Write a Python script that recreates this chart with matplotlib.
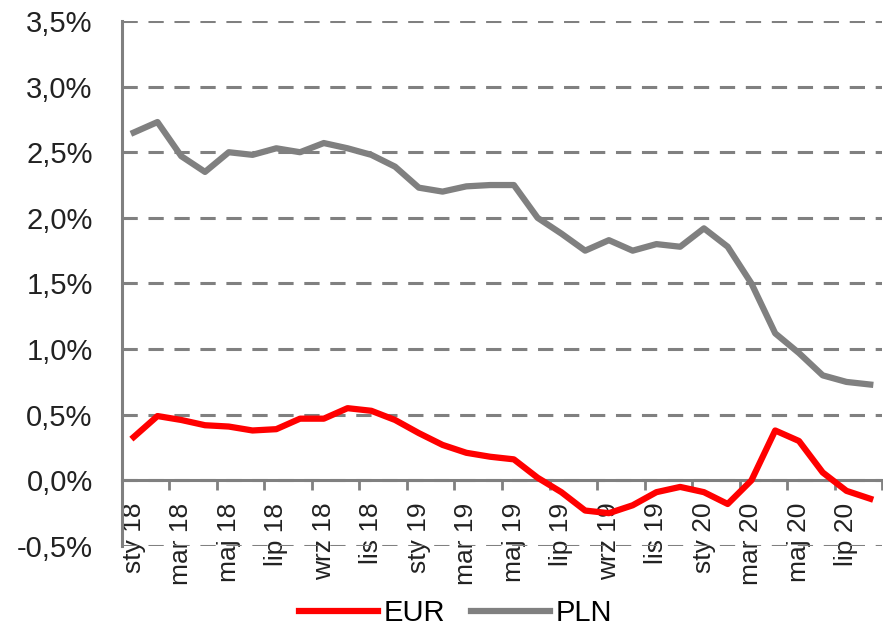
import numpy as np
import matplotlib.pyplot as plt
from matplotlib.ticker import FixedLocator, FuncFormatter

# ── Data (monthly, Jan 2018 – Aug 2020) ─────────────────────────────────────
months = ["sty 18", "lut 18", "mar 18", "kwi 18", "maj 18", "cze 18",
          "lip 18", "sie 18", "wrz 18", "paź 18", "lis 18", "gru 18",
          "sty 19", "lut 19", "mar 19", "kwi 19", "maj 19", "cze 19",
          "lip 19", "sie 19", "wrz 19", "paź 19", "lis 19", "gru 19",
          "sty 20", "lut 20", "mar 20", "kwi 20", "maj 20", "cze 20",
          "lip 20", "sie 20"]

eur = [0.33, 0.49, 0.46, 0.42, 0.41, 0.38, 0.39, 0.47, 0.47, 0.55,
       0.53, 0.46, 0.36, 0.27, 0.21, 0.18, 0.16, 0.02, -0.09, -0.23,
       -0.25, -0.19, -0.09, -0.05, -0.09, -0.18, 0.00, 0.38, 0.30, 0.06,
       -0.08, -0.14]

pln = [2.65, 2.73, 2.47, 2.35, 2.50, 2.48, 2.53, 2.50, 2.57, 2.53,
       2.48, 2.39, 2.23, 2.20, 2.24, 2.25, 2.25, 2.00, 1.88, 1.75,
       1.83, 1.75, 1.80, 1.78, 1.92, 1.78, 1.50, 1.12, 0.97, 0.80,
       0.75, 0.73]

RED = "#ff0000"
GREY = "#808080"
TXT = "#222222"

plt.rcParams["font.family"] = ["Liberation Sans", "DejaVu Sans"]
plt.rcParams["font.size"] = 21

fig = plt.figure(figsize=(8.83, 6.28), dpi=100)
ax = fig.add_axes([0.138, 0.1306, 0.861, 0.836])

x = np.arange(len(months))
ax.plot(x, eur, color=RED, lw=4.5, solid_joinstyle="round", label="EUR", zorder=3)
ax.plot(x, pln, color=GREY, lw=4.5, solid_joinstyle="round", label="PLN", zorder=3)

# ── Axes ────────────────────────────────────────────────────────────────────
ax.set_xlim(-0.5, len(months) - 0.5)
ax.set_ylim(-0.5, 3.5)
ax.set_yticks(np.arange(-0.5, 3.51, 0.5))
ax.yaxis.set_major_formatter(FuncFormatter(lambda v, p: f"{v:.1f}%".replace(".", ",")))
ax.tick_params(axis="y", length=0, pad=21, labelsize=21, labelcolor=TXT)

ax.grid(axis="y", color=GREY, lw=2.2, linestyle=(0, (5, 3.5)))
ax.set_axisbelow(True)

for s in ["top", "right"]:
    ax.spines[s].set_visible(False)
ax.spines["left"].set_color(GREY)
ax.spines["left"].set_linewidth(2.2)
ax.spines["bottom"].set_position(("data", 0))
ax.spines["bottom"].set_color(GREY)
ax.spines["bottom"].set_linewidth(2.2)

major = x[::2]
ax.xaxis.set_major_locator(FixedLocator(major))
ax.set_xticklabels([months[i] for i in major], rotation=90)
ax.xaxis.set_minor_locator(FixedLocator(np.arange(1.5, len(months), 2)))
ax.tick_params(axis="x", which="major", length=0, pad=16, labelsize=19, labelcolor=TXT)
ax.tick_params(axis="x", which="minor", length=7, width=2, color=GREY, direction="out")

fig.legend(loc="center", bbox_to_anchor=(0.516, 0.024), ncol=2, frameon=False,
           fontsize=21, handlelength=2.7, handletextpad=0.2, columnspacing=0.9)

fig.savefig("out.png", dpi=100)
